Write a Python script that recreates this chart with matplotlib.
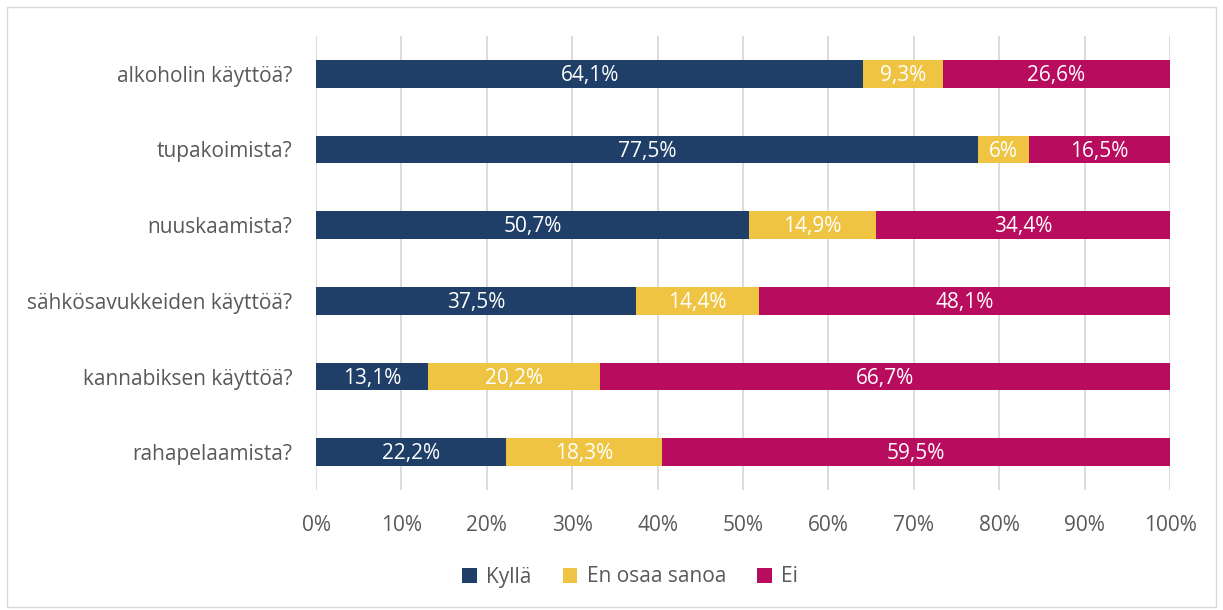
import matplotlib
matplotlib.use("Agg")
import matplotlib.pyplot as plt
from matplotlib.patches import Rectangle
import numpy as np

categories = ["alkoholin käyttöä?", "tupakoimista?", "nuuskaamista?",
              "sähkösavukkeiden käyttöä?", "kannabiksen käyttöä?", "rahapelaamista?"]
kylla = [64.1, 77.5, 50.7, 37.5, 13.1, 22.2]
eos = [9.3, 6.0, 14.9, 14.4, 20.2, 18.3]
ei = [26.6, 16.5, 34.4, 48.1, 66.7, 59.5]
labels_kylla = ["64,1%", "77,5%", "50,7%", "37,5%", "13,1%", "22,2%"]
labels_eos = ["9,3%", "6%", "14,9%", "14,4%", "20,2%", "18,3%"]
labels_ei = ["26,6%", "16,5%", "34,4%", "48,1%", "66,7%", "59,5%"]
series_names = ["Kyllä", "En osaa sanoa", "Ei"]
colors = ["#1F3F68", "#EFC443", "#B80C5E"]
xticks = [0, 10, 20, 30, 40, 50, 60, 70, 80, 90, 100]

plt.rcParams['font.family'] = ['Open Sans', 'DejaVu Sans']
FS = 15
W, H = 1223, 610
fig = plt.figure(figsize=(W / 100, H / 100), dpi=100)
ax = fig.add_axes([316 / W, 1 - 490 / H, (1170 - 316) / W, (490 - 36) / H])

y = np.arange(len(categories))
bh = 0.37
left = np.zeros(len(categories))
for vals, labs, col, name in zip([kylla, eos, ei], [labels_kylla, labels_eos, labels_ei],
                                 colors, series_names):
    vals = np.array(vals)
    ax.barh(y, vals, left=left, height=bh, color=col, label=name, zorder=3)
    for yi, l, v, lab in zip(y, left, vals, labs):
        ax.text(l + v / 2, yi + 0.02, lab, ha="center", va="center", color="white",
                fontsize=FS, zorder=4)
    left = left + vals

ax.set_ylim(len(categories) - 0.5, -0.5)
ax.set_xlim(0, 100)
ax.set_yticks(y)
ax.set_yticklabels(categories, fontsize=FS, color="#595959")
ax.set_xticks(xticks)
ax.set_xticklabels([f"{t}%" for t in xticks], fontsize=FS, color="#595959")
ax.tick_params(axis="both", length=0)
ax.tick_params(axis="y", pad=17)
ax.tick_params(axis="x", pad=18)
ax.grid(axis="x", color="#D9D9D9", linewidth=1.3, zorder=0)
for s in ax.spines.values():
    s.set_visible(False)

leg = fig.legend(loc="center", bbox_to_anchor=(630 / W, 1 - 577 / H), ncol=3, frameon=False,
                 fontsize=FS, handlelength=0.7, handleheight=0.7, columnspacing=1.5,
                 handletextpad=0.45)
for t in leg.get_texts():
    t.set_color("#595959")

fig.patches.append(Rectangle((7 / W, 3 / H), 1209 / W, 600 / H, transform=fig.transFigure,
                             fill=False, edgecolor="#D9D9D9", linewidth=1))
fig.savefig("out.png", dpi=100, facecolor="white")
